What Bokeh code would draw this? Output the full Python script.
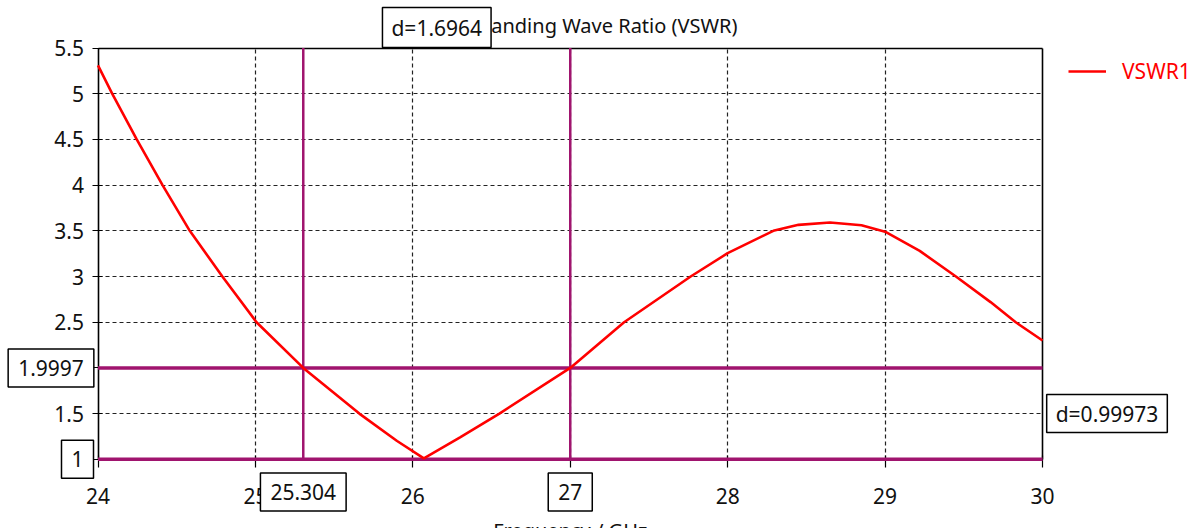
from bokeh.plotting import figure
from bokeh.models import (Label, Legend, LegendItem, Range1d, FixedTicker,
                          NumeralTickFormatter, LinearAxis, Grid)
from bokeh.embed import file_html
from bokeh.resources import INLINE

# ---- data ----
freq_ghz = [24.0, 24.09, 24.246, 24.41, 24.583, 24.79, 25.007, 25.304, 25.66, 25.9, 26.07,
            26.3, 26.55, 27.0, 27.342, 27.765, 28.0, 28.29, 28.45, 28.65, 28.85, 29.0,
            29.22, 29.45, 29.67, 29.83, 30.0]
vswr = [5.31, 5.0, 4.5, 4.0, 3.5, 3.0, 2.5, 2.0, 1.5, 1.2, 1.01,
        1.24, 1.5, 2.0, 2.5, 3.0, 3.255, 3.5, 3.565, 3.59, 3.56, 3.49,
        3.28, 3.0, 2.72, 2.5, 2.30]
x_ticks = [24, 25, 26, 27, 28, 29, 30]
y_ticks = [1, 1.5, 2, 2.5, 3, 3.5, 4, 4.5, 5, 5.5]
marker_freqs = [25.304, 27.0]
marker_freq_labels = ["25.304", "27"]
marker_vswrs = [1.9997, 1.0]
marker_vswr_labels = ["1.9997", "1"]
delta_freq_label = "d=1.6964"
delta_vswr_label = "d=0.99973"
series_name = "VSWR1"
title_text = "Voltage Standing Wave Ratio (VSWR)"
x_title = "Frequency / GHz"

# ---- layout (pixels) ----
W, H = 1200, 528
FL, FR, FT, FB = 97.5, 1042.0, 47.5, 458.8   # plot box edges
FONT = "Noto Sans"
FS = "21px"
MARK = "#A0146E"
TXT = "#111111"

x0, x1 = x_ticks[0], x_ticks[-1]
y0, y1 = y_ticks[0], y_ticks[-1]
kx = (FR - FL) / (x1 - x0)
ky = (FB - FT) / (y1 - y0)

p = figure(frame_width=W, frame_height=H, output_backend="svg", toolbar_location=None,
           x_range=Range1d(x0 - FL / kx, x1 + (W - FR) / kx),
           y_range=Range1d(y0 - (H - FB) / ky, y1 + FT / ky),
           x_axis_location=None, y_axis_location=None, min_border=0)
p.background_fill_color = "white"
p.border_fill_color = "white"
p.outline_line_color = None
p.grid.visible = False

def style_axis(ax):
    ax.axis_line_color = "black"
    ax.axis_line_width = 1.6
    ax.major_tick_line_color = "black"
    ax.major_tick_line_width = 1.2
    ax.minor_tick_line_color = None
    ax.major_label_text_font = FONT
    ax.major_label_text_font_size = FS
    ax.major_label_text_color = TXT

xax = LinearAxis(fixed_location=y0, bounds=(x0, x1), ticker=FixedTicker(ticks=x_ticks))
style_axis(xax)
xax.major_tick_out = 8
xax.major_tick_in = 4
xax.major_label_standoff = 21
p.add_layout(xax, "below")

yax = LinearAxis(fixed_location=x0, bounds=(y0, y1), ticker=FixedTicker(ticks=y_ticks),
                 formatter=NumeralTickFormatter(format="0.[0]"))
style_axis(yax)
yax.major_tick_out = 6
yax.major_tick_in = 4
yax.major_label_standoff = 8
p.add_layout(yax, "left")

rax = LinearAxis(fixed_location=x1, bounds=(y0, y1), ticker=FixedTicker(ticks=[]))
style_axis(rax)
p.add_layout(rax, "right")
tax = LinearAxis(fixed_location=y1, bounds=(x0, x1), ticker=FixedTicker(ticks=[]))
style_axis(tax)
p.add_layout(tax, "above")

# dashed grid limited to the plot box
inner_x = x_ticks[1:-1]
inner_y = y_ticks[1:-1]
if "cross_bounds" in Grid.properties():
    gx = Grid(dimension=0, ticker=FixedTicker(ticks=inner_x), bounds=(x0, x1), cross_bounds=(y0, y1))
    gy = Grid(dimension=1, ticker=FixedTicker(ticks=inner_y), bounds=(y0, y1), cross_bounds=(x0, x1))
    for g in (gx, gy):
        g.grid_line_color = "#222222"
        g.grid_line_dash = "4 3"
        g.grid_line_width = 1.2
        p.add_layout(g)
else:
    p.segment(x0=inner_x, y0=[y0] * len(inner_x), x1=inner_x, y1=[y1] * len(inner_x),
              line_color="#222222", line_dash="4 3", line_width=1.2, level="underlay")
    p.segment(x0=[x0] * len(inner_y), y0=inner_y, x1=[x1] * len(inner_y), y1=inner_y,
              line_color="#222222", line_dash="4 3", line_width=1.2, level="underlay")

# marker lines
p.segment(x0=marker_freqs, y0=[y0] * 2, x1=marker_freqs, y1=[y1] * 2,
          line_color=MARK, line_width=2.5, level="overlay")
p.segment(x0=[x0] * 2, y0=marker_vswrs, x1=[x1] * 2, y1=marker_vswrs,
          line_color=MARK, line_width=3.5, level="overlay")

r = p.line(freq_ghz, vswr, line_color="#FF0000", line_width=2.6, level="overlay")

def box_label(pad=(10, 11), **kw):
    return Label(text_font=FONT, text_font_size=FS, text_color=TXT,
                 text_align="center", text_baseline="middle",
                 border_line_color="black", border_line_width=1.5,
                 background_fill_color="white", padding=dict(x=pad[0], y=pad[1]),
                 level="overlay", **kw)

p.add_layout(Label(x=(FL + FR) / 2 - 3, y=H - 25, x_units="screen", y_units="screen", text=title_text,
                   text_font=FONT, text_font_size="20px", text_color=TXT,
                   text_align="center", text_baseline="middle", level="overlay"))
p.add_layout(Label(x=(x0 + x1) / 2, y=12, x_units="data", y_units="screen", text=x_title,
                   text_font=FONT, text_font_size="20px", text_color=TXT,
                   text_align="center", text_baseline="top", level="overlay"))

for f, s in zip(marker_freqs, marker_freq_labels):
    p.add_layout(box_label(x=f, y=H - 491.5, x_units="data", y_units="screen", text=s))
p.add_layout(box_label(x=50.5, y=marker_vswrs[0], x_units="screen", y_units="data",
                       text=marker_vswr_labels[0]))
p.add_layout(box_label(x=77, y=marker_vswrs[1], x_units="screen", y_units="data",
                       text=marker_vswr_labels[1]))
p.add_layout(box_label(pad=(9, 6), x=(marker_freqs[0] + marker_freqs[1]) / 2, y=H - 27,
                       x_units="data", y_units="screen", text=delta_freq_label))
p.add_layout(box_label(pad=(9, 5), x=1106.5, y=(marker_vswrs[0] + marker_vswrs[1]) / 2,
                       x_units="screen", y_units="data", text=delta_vswr_label))

legend = Legend(items=[LegendItem(label=series_name, renderers=[r])], location=(1068, H - 85),
                border_line_color=None, background_fill_alpha=0, padding=0, margin=0,
                glyph_width=38, glyph_height=20, label_standoff=16, label_height=20,
                label_text_color="#FF0000", label_text_font=FONT, label_text_font_size=FS,
                level="overlay")
p.add_layout(legend)

open("out.html", "w").write(file_html(p, INLINE))
